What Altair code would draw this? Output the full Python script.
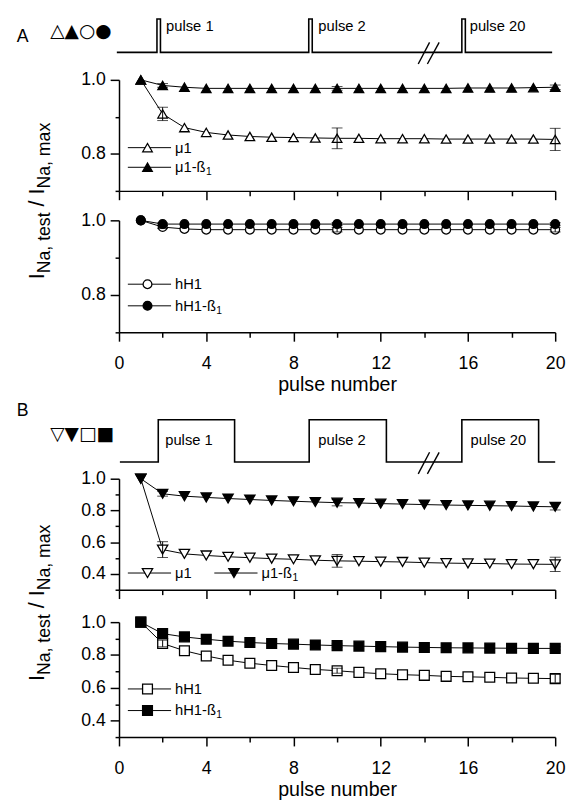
import altair as alt
import pandas as pd

FONT = "Liberation Sans"

# ---------------- data ----------------
pulses = list(range(1, 21))

a_mu1 = [1.0, 0.908, 0.871, 0.858, 0.851, 0.847, 0.845, 0.844, 0.843, 0.842,
         0.842, 0.841, 0.841, 0.841, 0.840, 0.840, 0.840, 0.840, 0.840, 0.839]
a_mu1b1 = [1.0, 0.985, 0.980, 0.977, 0.977, 0.977, 0.977, 0.977, 0.977, 0.977,
           0.977, 0.977, 0.977, 0.977, 0.977, 0.978, 0.978, 0.978, 0.979, 0.980]
a_hh1 = [1.0, 0.982, 0.977, 0.975, 0.975, 0.975, 0.975, 0.975, 0.975, 0.975,
         0.975, 0.975, 0.975, 0.975, 0.975, 0.975, 0.975, 0.975, 0.975, 0.975]
a_hh1b1 = [1.0, 0.990, 0.990, 0.990, 0.990, 0.990, 0.990, 0.990, 0.990, 0.990,
           0.990, 0.990, 0.990, 0.990, 0.990, 0.990, 0.990, 0.990, 0.990, 0.990]

b_mu1 = [1.0, 0.553, 0.526, 0.516, 0.508, 0.502, 0.496, 0.492, 0.486, 0.482,
         0.480, 0.477, 0.475, 0.471, 0.468, 0.466, 0.465, 0.462, 0.461, 0.460]
b_mu1b1 = [1.0, 0.905, 0.890, 0.882, 0.875, 0.869, 0.863, 0.858, 0.853, 0.849,
           0.847, 0.843, 0.840, 0.837, 0.834, 0.832, 0.830, 0.828, 0.825, 0.823]
b_hh1 = [1.0, 0.870, 0.826, 0.794, 0.768, 0.750, 0.736, 0.724, 0.712, 0.704,
         0.694, 0.686, 0.680, 0.676, 0.670, 0.667, 0.664, 0.660, 0.658, 0.656]
b_hh1b1 = [1.0, 0.930, 0.910, 0.896, 0.884, 0.876, 0.870, 0.866, 0.861, 0.857,
           0.854, 0.851, 0.848, 0.846, 0.844, 0.843, 0.842, 0.841, 0.840, 0.840]

err_pulses = [2, 10, 20]
a_mu1_err = [0.018, 0.028, 0.030]
a_mu1b1_err = [0.005, 0.005, 0.006]
a_hh1_err = [0.004, 0.006, 0.006]
a_hh1b1_err = [0.003, 0.004, 0.004]
b_mu1_err = [0.050, 0.040, 0.045]
b_mu1b1_err = [0.015, 0.020, 0.020]
b_hh1_err = [0.020, 0.015, 0.025]
b_hh1b1_err = [0.030, 0.010, 0.010]

x_ticks = list(range(0, 21, 2))
a_y_ticks = [0.7, 0.8, 0.9, 1.0]
b_y_ticks = [0.3, 0.4, 0.5, 0.6, 0.7, 0.8, 0.9, 1.0]

# stimulation protocol (schematic, time in arbitrary units 0-100)
proto_levels = [0, 0, 1, 1, 0, 0, 1, 1, 0, 0, 1, 1, 0, 0]
proto_a_t = [-0.5, 8.7, 8.7, 9.5, 9.5, 43.5, 43.5, 44.3, 44.3, 78.6, 78.6, 79.4, 79.4, 99.3]
proto_b_t = [0.2, 9.0, 9.0, 26.5, 26.5, 43.6, 43.6, 61.3, 61.3, 78.6, 78.6, 96.2, 96.2, 100.0]
pulse_labels = ["pulse 1", "pulse 2", "pulse 20"]
pulse_label_a_t = [10.8, 45.7, 80.4]
pulse_label_b_t = [10.6, 45.7, 80.6]
break_t0 = [68.6, 70.7]
break_t1 = [71.2, 73.4]

W = 444


# ---------------- helpers ----------------
def x_enc(field, show_labels):
    cond4 = "datum.value % 4 == 0"
    kw = dict(values=x_ticks, grid=False, labelFlush=False,
              tickSize={"condition": {"test": cond4, "value": 9}, "value": 5})
    if show_labels:
        kw.update(labelExpr=f"{cond4} ? format(datum.value, 'd') : ''",
                  title="pulse number", labelPadding=14, titlePadding=2)
    else:
        kw.update(labels=False, title=None)
    return alt.X(f"{field}:Q", scale=alt.Scale(domain=[0, 20], nice=False, zero=False),
                 axis=alt.Axis(**kw))


def y_enc(field, domain, values):
    even = "round(datum.value * 10) % 2 == 0"
    ax = alt.Axis(values=values, title=None, grid=False, labelFlush=False,
                  labelExpr=f"{even} ? format(datum.value, '.1f') : ''",
                  tickSize={"condition": {"test": even, "value": 9}, "value": 4},
                  labelPadding=5)
    return alt.Y(f"{field}:Q", scale=alt.Scale(domain=domain, nice=False, zero=False),
                 axis=ax)


def series_layers(values, errs, shape, filled, size, domain, yvals, show_x):
    df = pd.DataFrame({"pulse": pulses, "v": values})
    edf = pd.DataFrame({"pulse": err_pulses,
                        "v": [values[p - 1] for p in err_pulses],
                        "e": errs})
    X = x_enc("pulse", show_x)
    line = alt.Chart(df).mark_line(color="black", strokeWidth=1).encode(
        x=X, y=y_enc("v", domain, yvals))
    pts = alt.Chart(df).mark_point(
        shape=shape, filled=True, fill="black" if filled else "white",
        stroke="black", strokeWidth=1.3, size=size, opacity=1).encode(
        x=X, y=y_enc("v", domain, yvals))
    ebase = alt.Chart(edf).transform_calculate(lo="datum.v - datum.e", hi="datum.v + datum.e")
    bar = ebase.mark_rule(color="black", strokeWidth=1).encode(
        x=X, y=y_enc("lo", domain, yvals), y2="hi:Q")
    cap1 = ebase.mark_tick(orient="horizontal", size=11, thickness=1, color="black").encode(
        x=X, y=y_enc("lo", domain, yvals))
    cap2 = ebase.mark_tick(orient="horizontal", size=11, thickness=1, color="black").encode(
        x=X, y=y_enc("hi", domain, yvals))
    return [line], [pts], [bar, cap1, cap2]


one = pd.DataFrame({"k": [0]})


def text_at(txt, x, y, size, angle=0, align="left", baseline="middle", font=FONT):
    kw = dict(text=txt, align=align, baseline=baseline, fontSize=size, font=font,
              color="black")
    if angle:
        kw["angle"] = angle
    return alt.Chart(one).mark_text(**kw).encode(x=alt.value(x), y=alt.value(y))


def legend_entry(x0, y, label, shape, filled, size, sub=None, sub_dx=0):
    layers = [
        alt.Chart(one).mark_rule(color="black", strokeWidth=1).encode(
            x=alt.value(x0), x2=alt.value(x0 + 44), y=alt.value(y)),
        alt.Chart(one).mark_point(shape=shape, filled=True,
                                  fill="black" if filled else "white",
                                  stroke="black", strokeWidth=1.3, size=size,
                                  opacity=1).encode(
            x=alt.value(x0 + 20), y=alt.value(y)),
        text_at(label, x0 + 48, y, 15),
    ]
    if sub:
        layers.append(text_at(sub, x0 + 48 + sub_dx, y + 5, 10.5))
    return layers


# Arial-like advance widths (em) for composing the rotated y title
WIDTHS = {"I": .278, "N": .722, "a": .556, ",": .278, " ": .278, "t": .278,
          "e": .556, "s": .5, "m": .833, "x": .5, "/": .278}


def tw(s, size):
    return sum(WIDTHS.get(c, .556) for c in s) * size


def y_title(y_bottom, x_main=-76, x_sub=-70):
    main, sub = 22, 18
    pieces = [("I", main, x_main), ("Na, test", sub, x_sub), ("/", main, x_main),
              ("I", main, x_main), ("Na, max", sub, x_sub)]
    gaps = [0, 0, 6, 6, 0]
    layers = []
    y = y_bottom
    for (txt, size, x), g in zip(pieces, gaps):
        y -= g
        layers.append(text_at(txt, x, y, size, angle=270, baseline="alphabetic"))
        y -= tw(txt, size)
    return layers


def subplot(series, domain, yvals, height, show_x, extra):
    lines, pts, errs = [], [], []
    for vals, e, shape, filled, size in series:
        l, p, er = series_layers(vals, e, shape, filled, size, domain, yvals, show_x)
        lines += l
        pts += p
        errs += er
    return alt.layer(*(lines + pts + errs + extra)).properties(width=W, height=height)


def protocol(ts, height, label_t, label_y, slash_y0, slash_y1, letter, letter_y,
             symbols, sym_y):
    df = pd.DataFrame({"i": list(range(len(ts))), "t": ts, "lvl": proto_levels})
    X = alt.X("t:Q", scale=alt.Scale(domain=[0, 100], nice=False, zero=False), axis=None)
    Y = alt.Y("lvl:Q", scale=alt.Scale(domain=[0, 1], nice=False, zero=False), axis=None)
    line = alt.Chart(df).mark_line(color="black", strokeWidth=1.6).encode(
        x=X, y=Y, order="i:Q")
    sdf = pd.DataFrame({"t0": break_t0, "t1": break_t1,
                        "y0": [slash_y0] * 2, "y1": [slash_y1] * 2})
    slashes = alt.Chart(sdf).mark_rule(color="black", strokeWidth=1.4).encode(
        x=alt.X("t0:Q", scale=alt.Scale(domain=[0, 100]), axis=None), x2="t1:Q",
        y=alt.Y("y0:Q", scale=alt.Scale(domain=[0, 1]), axis=None), y2="y1:Q")
    ldf = pd.DataFrame({"t": label_t, "lvl": [label_y] * 3, "lab": pulse_labels})
    labels = alt.Chart(ldf).mark_text(align="left", baseline="middle", fontSize=15,
                                      font=FONT, color="black").encode(
        x=alt.X("t:Q", scale=alt.Scale(domain=[0, 100]), axis=None),
        y=alt.Y("lvl:Q", scale=alt.Scale(domain=[0, 1]), axis=None), text="lab:N")
    return alt.layer(
        line, slashes, labels,
        text_at(letter, -104, letter_y, 18),
        text_at(symbols, -70, sym_y, 19, font="DejaVu Sans"),
    ).properties(width=W, height=height)


def spacer(h):
    return alt.Chart(one).mark_point(opacity=0, size=1).encode(
        x=alt.value(0), y=alt.value(0)).properties(width=W, height=h)


# ---------------- panel A ----------------
protoA = protocol(proto_a_t, 34, pulse_label_a_t, 0.78, -0.35, 0.3, "A", 18, "△▲○●", 12)

upperA = subplot(
    [(a_mu1, a_mu1_err, "triangle-up", False, 95),
     (a_mu1b1, a_mu1b1_err, "triangle-up", True, 95)],
    [0.7, 1.0], a_y_ticks, 113, False,
    legend_entry(9, 69, "μ1", "triangle-up", False, 95)
    + legend_entry(9, 89, "μ1-ß", "triangle-up", True, 95, sub="1", sub_dx=31.5)
    + y_title(203))

lowerA = subplot(
    [(a_hh1, a_hh1_err, "circle", False, 80),
     (a_hh1b1, a_hh1b1_err, "circle", True, 80)],
    [0.7, 1.0], a_y_ticks, 114, True,
    legend_entry(9, 65, "hH1", "circle", False, 80)
    + legend_entry(9, 87, "hH1-ß", "circle", True, 80, sub="1", sub_dx=42))

# ---------------- panel B ----------------
protoB = protocol(proto_b_t, 43, pulse_label_b_t, 0.53, -0.28, 0.23, "B", -9, "▽▼□■", 15)

upperB = subplot(
    [(b_mu1, b_mu1_err, "triangle-down", False, 110),
     (b_mu1b1, b_mu1b1_err, "triangle-down", True, 110)],
    [0.3, 1.0], b_y_ticks, 113, False,
    legend_entry(9, 96, "μ1", "triangle-down", False, 110)
    + legend_entry(97, 96, "μ1-ß", "triangle-down", True, 110, sub="1", sub_dx=31.5)
    + y_title(206))

lowerB = subplot(
    [(b_hh1, b_hh1_err, "square", False, 100),
     (b_hh1b1, b_hh1b1_err, "square", True, 100)],
    [0.3, 1.0], b_y_ticks, 117, True,
    legend_entry(9, 68, "hH1", "square", False, 100)
    + legend_entry(9, 90, "hH1-ß", "square", True, 100, sub="1", sub_dx=42))

chart = alt.vconcat(
    protoA, spacer(28), upperA, spacer(30), lowerA, spacer(89),
    protoB, spacer(17), upperB, spacer(33), lowerB,
    spacing=0, bounds="flush",
).properties(
    padding={"left": 9, "top": 0, "right": 0, "bottom": 0},
    background="white",
).configure_view(stroke=None).configure_axis(
    domainColor="black", tickColor="black", labelColor="black", titleColor="black",
    domainWidth=1.5, tickWidth=1.5, labelFont=FONT, titleFont=FONT,
    labelFontSize=18, titleFontSize=20, titleFontWeight="normal",
)

chart.save("out.html", embed_options={"renderer": "svg", "actions": False})
